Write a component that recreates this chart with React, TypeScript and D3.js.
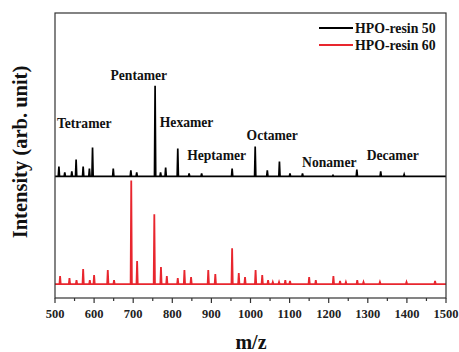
import React from "react";
import * as d3 from "d3";

const xTicks = [500, 600, 700, 800, 900, 1000, 1100, 1200, 1300, 1400, 1500];
const xMinor = [550, 650, 750, 850, 950, 1050, 1150, 1250, 1350, 1450];

const seriesNames = ["HPO-resin 50", "HPO-resin 60"];
const seriesColors = ["#000000", "#e8262e"];

const blackMz = [510, 525, 543, 554, 572, 588, 596, 649, 694, 709, 756, 770, 783, 814, 843, 875, 953, 1012, 1043, 1074, 1101, 1133, 1211, 1272, 1333, 1393];
const blackInt = [10, 4, 5, 17, 10, 8, 29, 8, 6, 4, 91, 4, 9, 28, 3, 3, 8, 30, 6, 15, 3, 3, 1, 7, 5, 2];

const redMz = [513, 537, 555, 572, 589, 600, 635, 651, 695, 710, 754, 771, 786, 814, 831, 848, 892, 910, 953, 970, 986, 1013, 1030, 1045, 1057, 1073, 1089, 1101, 1150, 1167, 1212, 1229, 1244, 1273, 1289, 1331, 1399, 1472];
const redInt = [8, 6, 4, 15, 4, 9, 14, 4, 104, 23, 70, 17, 8, 6, 14, 7, 14, 10, 36, 11, 7, 14, 9, 4, 2, 2, 4, 3, 7, 4, 8, 3, 2, 4, 2, 2, 2, 3];

const blackOffset = 108;

const annotations = ["Tetramer", "Pentamer", "Hexamer", "Heptamer", "Octamer", "Nonamer", "Decamer"];
const annotMz = [505, 642, 768, 838, 990, 1132, 1297];
const annotInt = [157, 205, 158, 124, 145, 117, 124];

const W = 459;
const H = 352;
const L = 55, R = 446, T = 13, B = 298;
const FONT = "'Liberation Serif', 'Times New Roman', serif";

function buildPoints(mz: number[], ints: number[], offset: number): [number, number][] {
  const pts: [number, number][] = [[500, offset]];
  const idx = mz.map((_, i) => i).sort((a, b) => mz[a] - mz[b]);
  for (const i of idx) {
    pts.push([mz[i] - 1.6, offset]);
    pts.push([mz[i], offset + ints[i]]);
    pts.push([mz[i] + 1.6, offset]);
  }
  pts.push([1500, offset]);
  return pts;
}

export default function App() {
  const x = d3.scaleLinear().domain([500, 1500]).range([L, R]);
  const y = d3.scaleLinear().domain([-14, 272]).range([B, T]);
  const line = d3.line<[number, number]>().x((d) => x(d[0])).y((d) => y(d[1]));

  const blackPath = line(buildPoints(blackMz, blackInt, blackOffset)) || "";
  const redPath = line(buildPoints(redMz, redInt, 0)) || "";

  return (
    <svg width={W} height={H} style={{ position: "absolute", left: 0, top: 0, background: "#fff" }}>
      <rect x={0} y={0} width={W} height={H} fill="#fff" />
      <path d={redPath} fill="none" stroke={seriesColors[1]} strokeWidth={1.8} strokeLinejoin="miter" />
      <path d={blackPath} fill="none" stroke={seriesColors[0]} strokeWidth={1.7} strokeLinejoin="miter" />
      <rect x={L} y={T} width={R - L} height={B - T} fill="none" stroke="#333" strokeWidth={1.2} />
      {xTicks.map((t) => (
        <g key={t}>
          <line x1={x(t)} x2={x(t)} y1={B} y2={B + 5} stroke="#333" strokeWidth={1.2} />
          <text x={x(t)} y={318} textAnchor="middle" fontFamily={FONT} fontWeight="bold" fontSize={12.5} fill="#222">
            {t}
          </text>
        </g>
      ))}
      {xMinor.map((t) => (
        <line key={t} x1={x(t)} x2={x(t)} y1={B} y2={B + 3} stroke="#333" strokeWidth={1.2} />
      ))}
      <text x={251} y={349} textAnchor="middle" fontFamily={FONT} fontWeight="bold" fontSize={20} fill="#111">
        m/z
      </text>
      <text
        transform={`translate(27, ${152}) rotate(-90)`}
        textAnchor="middle"
        fontFamily={FONT}
        fontWeight="bold"
        fontSize={20.5}
        fill="#111"
      >
        Intensity (arb. unit)
      </text>
      {annotations.map((a, i) => (
        <text key={a} x={x(annotMz[i])} y={y(annotInt[i])} fontFamily={FONT} fontWeight="bold" fontSize={13.6} fill="#111">
          {a}
        </text>
      ))}
      {seriesNames.map((n, i) => (
        <g key={n}>
          <line x1={319} x2={353} y1={28 + i * 17} y2={28 + i * 17} stroke={seriesColors[i]} strokeWidth={2} />
          <text x={355} y={32.5 + i * 17} fontFamily={FONT} fontWeight="bold" fontSize={13.8} fill="#111">
            {n}
          </text>
        </g>
      ))}
    </svg>
  );
}
